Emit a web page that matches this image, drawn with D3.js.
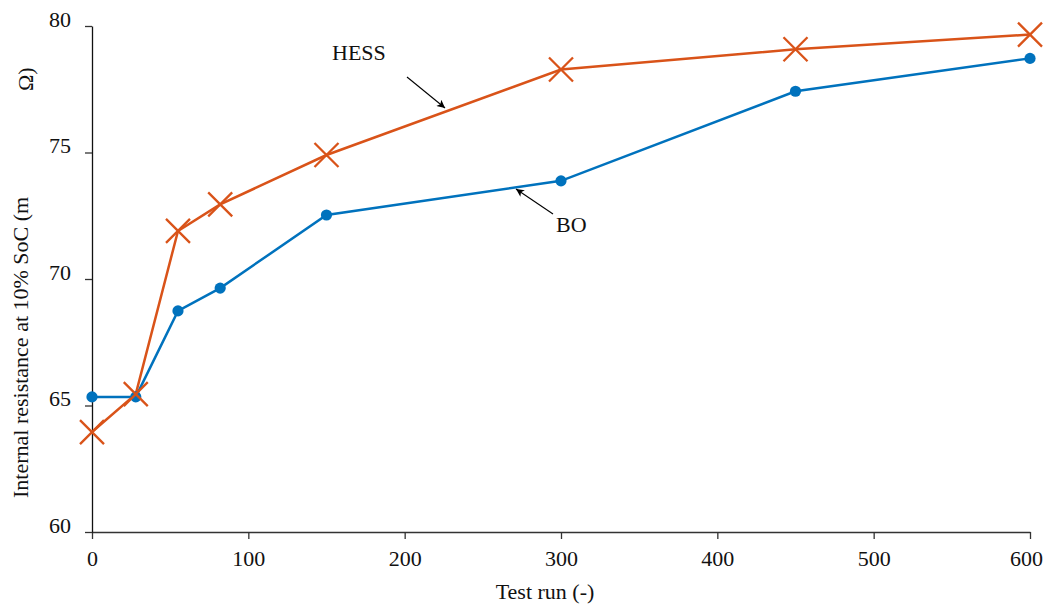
<!DOCTYPE html>
<html><head><meta charset="utf-8">
<script src="https://cdn.jsdelivr.net/npm/d3@7"></script>
<style>body{margin:0;background:#fff}svg{display:block}text{font-family:"Liberation Serif","Times New Roman",serif}</style>
</head><body>
<svg id="c" width="1044" height="605"></svg>
<script>
const testRuns = [0, 28, 55, 82, 150, 300, 450, 600];
const boValues = [65.34, 65.34, 68.74, 69.64, 72.53, 73.88, 77.42, 78.72];
const hessValues = [63.95, 65.45, 71.9, 72.95, 74.9, 78.28, 79.08, 79.66];
const xTicks = [0, 100, 200, 300, 400, 500, 600];
const yTicks = [60, 65, 70, 75, 80];

const svg = d3.select("#c");
const x = d3.scaleLinear().domain([0, 600]).range([92, 1030]);
const y = d3.scaleLinear().domain([60, 80]).range([532, 26]);
const blue = "#0072BD", orange = "#D95319";
const fs = 22;

const xa = svg.append("g").attr("transform", "translate(0,532)")
  .call(d3.axisBottom(x).tickValues(xTicks).tickSize(7).tickSizeOuter(0));
xa.select(".domain").attr("stroke", "#333").attr("stroke-width", 1.3);
xa.selectAll(".tick line").attr("stroke", "#333").attr("stroke-width", 1.3);
xa.selectAll("text").attr("font-size", fs).attr("fill", "#111").attr("dy", 0).attr("y", 34)
  .attr("dx", d => d === 600 ? -4 : 0);

const ya = svg.append("g").attr("transform", "translate(92,0)")
  .call(d3.axisLeft(y).tickValues(yTicks).tickSize(7).tickSizeOuter(0));
ya.select(".domain").attr("stroke", "#111").attr("stroke-width", 1.3);
ya.selectAll(".tick line").attr("stroke", "#333").attr("stroke-width", 1.3);
ya.selectAll("text").attr("font-size", fs).attr("fill", "#111").attr("x", -21).attr("dy", 0).attr("y", 0);

const boData = testRuns.map((t, i) => [t, boValues[i]]);
const hessData = testRuns.map((t, i) => [t, hessValues[i]]);
const line = d3.line().x(d => x(d[0])).y(d => y(d[1]));

svg.append("path").datum(boData).attr("d", line).attr("fill", "none")
  .attr("stroke", blue).attr("stroke-width", 2.5);
svg.append("path").datum(hessData).attr("d", line).attr("fill", "none")
  .attr("stroke", orange).attr("stroke-width", 2.5);

svg.selectAll(".bo").data(boData).enter().append("circle")
  .attr("cx", d => x(d[0])).attr("cy", d => y(d[1])).attr("r", 5.6).attr("fill", blue);

const s = 12;
svg.selectAll(".hx").data(hessData).enter().append("path")
  .attr("d", d => { const cx = x(d[0]), cy = y(d[1]);
    return `M${cx-s},${cy-s}L${cx+s},${cy+s}M${cx-s},${cy+s}L${cx+s},${cy-s}`; })
  .attr("stroke", orange).attr("stroke-width", 2.3).attr("fill", "none");

const defs = svg.append("defs");
defs.append("marker").attr("id", "ah").attr("viewBox", "0 0 10 10").attr("refX", 10).attr("refY", 5)
  .attr("markerWidth", 11).attr("markerHeight", 8).attr("markerUnits", "userSpaceOnUse").attr("orient", "auto")
  .append("path").attr("d", "M0,0L10,5L0,10L2.5,5Z").attr("fill", "#000");

svg.append("line").attr("x1", 407).attr("y1", 77).attr("x2", 445).attr("y2", 108)
  .attr("stroke", "#000").attr("stroke-width", 1.1).attr("marker-end", "url(#ah)");
svg.append("text").attr("x", 332).attr("y", 60).attr("font-size", fs).attr("fill", "#111").text("HESS");

svg.append("line").attr("x1", 553).attr("y1", 214).attr("x2", 516).attr("y2", 189)
  .attr("stroke", "#000").attr("stroke-width", 1.1).attr("marker-end", "url(#ah)");
svg.append("text").attr("x", 556).attr("y", 232).attr("font-size", fs).attr("fill", "#111").text("BO");

svg.append("text").attr("x", 545).attr("y", 599).attr("text-anchor", "middle")
  .attr("font-size", fs).attr("fill", "#111").text("Test run (-)");

svg.append("text").attr("transform", "translate(28,498) rotate(-90)")
  .attr("font-size", fs).attr("fill", "#111").text("Internal resistance at 10% SoC (m");
svg.append("text").attr("transform", "translate(33,91) rotate(-90)")
  .attr("font-size", fs).attr("fill", "#111").text("Ω)");
</script>
</body></html>
